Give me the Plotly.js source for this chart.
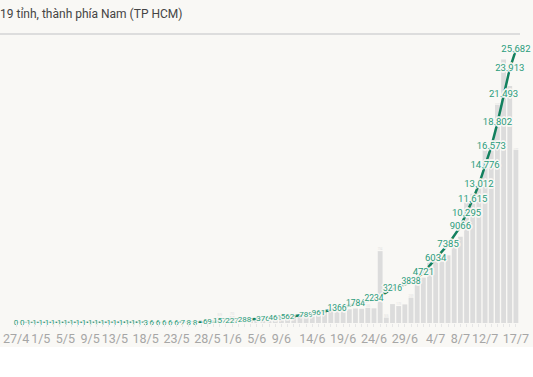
<!DOCTYPE html>
<html>
<head>
<meta charset="utf-8">
<script src="https://cdn.plot.ly/plotly-3.0.1.min.js"></script>
<style>html,body{margin:0;padding:0;background:#fff;}#chart{width:533px;height:377px;}</style>
</head>
<body>
<div id="chart"></div>
<script>
const titleText = '19 tỉnh, thành phía Nam (TP HCM)';

const dates = [
'2021-04-27','2021-04-28','2021-04-29','2021-04-30',
'2021-05-01','2021-05-02','2021-05-03','2021-05-04','2021-05-05','2021-05-06','2021-05-07','2021-05-08','2021-05-09','2021-05-10',
'2021-05-11','2021-05-12','2021-05-13','2021-05-14','2021-05-15','2021-05-16','2021-05-17','2021-05-18','2021-05-19','2021-05-20',
'2021-05-21','2021-05-22','2021-05-23','2021-05-24','2021-05-25','2021-05-26','2021-05-27','2021-05-28','2021-05-29','2021-05-30','2021-05-31',
'2021-06-01','2021-06-02','2021-06-03','2021-06-04','2021-06-05','2021-06-06','2021-06-07','2021-06-08','2021-06-09','2021-06-10',
'2021-06-11','2021-06-12','2021-06-13','2021-06-14','2021-06-15','2021-06-16','2021-06-17','2021-06-18','2021-06-19','2021-06-20',
'2021-06-21','2021-06-22','2021-06-23','2021-06-24','2021-06-25','2021-06-26','2021-06-27','2021-06-28','2021-06-29','2021-06-30',
'2021-07-01','2021-07-02','2021-07-03','2021-07-04','2021-07-05','2021-07-06','2021-07-07','2021-07-08','2021-07-09','2021-07-10',
'2021-07-11','2021-07-12','2021-07-13','2021-07-14','2021-07-15','2021-07-16','2021-07-17'
];

// Daily new cases (grey bars)
const dailyCases = [
0,0,1,0,
0,0,0,0,0,0,0,0,0,0,
0,0,0,0,0,0,0,2,3,0,
0,0,0,1,1,0,30,31,29,59,14,
70,32,29,25,33,30,40,45,48,53,
70,75,82,84,88,125,135,145,130,140,
148,145,155,150,734,55,193,173,190,259,
420,463,640,673,660,691,800,881,1229,1320,
1397,1764,1797,2229,2691,2420,1769
];

// Cumulative cases (green line) at the dates where the chart labels them
const cumDates = [
'2021-04-27','2021-04-28','2021-04-29','2021-04-30','2021-05-01','2021-05-02','2021-05-03','2021-05-04','2021-05-05','2021-05-06',
'2021-05-07','2021-05-08','2021-05-09','2021-05-10','2021-05-11','2021-05-12','2021-05-13','2021-05-14','2021-05-15','2021-05-16',
'2021-05-17','2021-05-18','2021-05-19','2021-05-20','2021-05-21','2021-05-22','2021-05-23','2021-05-24','2021-05-25','2021-05-26',
'2021-05-28','2021-05-30','2021-06-01','2021-06-03','2021-06-06','2021-06-08','2021-06-10','2021-06-13','2021-06-15','2021-06-18',
'2021-06-21','2021-06-24','2021-06-27','2021-06-30','2021-07-02','2021-07-04','2021-07-06','2021-07-08','2021-07-09','2021-07-10',
'2021-07-11','2021-07-12','2021-07-13','2021-07-14','2021-07-15','2021-07-16','2021-07-17'
];
const cumCases = [
0,0,1,1,1,1,1,1,1,1,
1,1,1,1,1,1,1,1,1,1,
1,3,6,6,6,6,6,7,8,8,
69,157,227,288,376,461,562,789,961,1366,
1784,2234,3216,3838,4721,6034,7385,9066,10295,11615,
13012,14776,16573,18802,21493,23913,25682
];

// Bars whose value is printed
const labeledBars = ['2021-05-30','2021-06-01','2021-06-23','2021-06-25','2021-06-26','2021-06-28','2021-06-30','2021-07-14','2021-07-17'];

const tickVals = ['2021-04-27','2021-05-01','2021-05-05','2021-05-09','2021-05-13','2021-05-18','2021-05-23','2021-05-28','2021-06-01','2021-06-05',
'2021-06-09','2021-06-14','2021-06-19','2021-06-24','2021-06-29','2021-07-04','2021-07-08','2021-07-12','2021-07-17'];
const tickText = ['27/4','1/5','5/5','9/5','13/5','18/5','23/5','28/5','1/6','5/6','9/6','14/6','19/6','24/6','29/6','4/7','8/7','12/7','17/7'];

function fmt(v){
  const s = String(v);
  if (v >= 10000) return s.replace(/\B(?=(\d{3})+(?!\d))/g, '.');
  return s;
}

const BG = '#f9f8f5';
const halo = `-1px -1px 0 ${BG}, 1px -1px 0 ${BG}, -1px 1px 0 ${BG}, 1px 1px 0 ${BG}, 2px 0 0 ${BG}, -2px 0 0 ${BG}, 0 2px 0 ${BG}, 0 -2px 0 ${BG}`;
const FONT = 'Roboto, "Noto Sans", sans-serif';

const bars = {
  type: 'bar',
  x: dates,
  y: dailyCases,
  marker: {color: '#dcdcdc'},
  text: dailyCases.map((v,i) => labeledBars.includes(dates[i]) ? fmt(v) : ''),
  textposition: 'auto',
  insidetextanchor: 'end',
  insidetextfont: {color: '#ffffff', size: 8.5, family: FONT},
  outsidetextfont: {color: '#e0e0e0', size: 8, family: FONT},
  textangle: 0,
  cliponaxis: false,
  hoverinfo: 'skip',
  yaxis: 'y'
};

const line = {
  type: 'scatter',
  mode: 'lines+text',
  x: cumDates,
  y: cumCases,
  line: {color: '#13805e', width: 2.5},
  text: cumCases.map(fmt),
  textposition: 'middle center',
  textfont: {color: '#2b9c7c', size: cumCases.map(v => v < 1000 ? 8 : (v < 4000 ? 8.5 : 9.5)), family: FONT, shadow: halo},
  cliponaxis: false,
  hoverinfo: 'skip',
  yaxis: 'y2'
};

const layout = {
  width: 533, height: 377,
  margin: {l: 13, r: 14, t: 40, b: 54},
  paper_bgcolor: '#ffffff',
  plot_bgcolor: 'rgba(0,0,0,0)',
  showlegend: false,
  bargap: 0.22,
  title: {text: titleText, x: 0, xref: 'container', xanchor: 'left', y: 0.963, yref: 'container', yanchor: 'middle',
          font: {family: FONT, size: 12, color: '#444444'}},
  xaxis: {
    type: 'date',
    range: ['2021-04-26 12:00', '2021-07-17 12:00'],
    tickvals: tickVals, ticktext: tickText,
    tickangle: 0,
    ticklabelstandoff: 6,
    ticks: '', showgrid: false, zeroline: false, showline: false,
    tickfont: {family: FONT, size: 12.5, color: '#a6a6a6'},
    minor: {dtick: 86400000, ticks: 'outside', ticklen: 3, tickcolor: '#e6e6e6', showgrid: false},
    fixedrange: true
  },
  yaxis: {range: [0, 2890], visible: false, fixedrange: true},
  yaxis2: {range: [0, 26620], overlaying: 'y', visible: false, fixedrange: true},
  shapes: [
    {type: 'rect', xref: 'paper', yref: 'paper', x0: -0.03, x1: 1.03, y0: -0.0848, y1: 1.15, fillcolor: BG, line: {width: 0}, layer: 'below'},
    {type: 'line', xref: 'paper', yref: 'paper', x0: -0.03, x1: 1.002, y0: 1.0212, y1: 1.0212, line: {color: '#dddddd', width: 2}}
  ]
};

Plotly.newPlot('chart', [bars, line], layout, {displayModeBar: false, staticPlot: true});
</script>
</body>
</html>
